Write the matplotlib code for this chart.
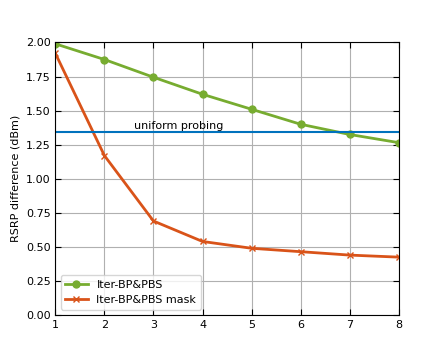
import matplotlib
matplotlib.use('Agg')
import matplotlib.pyplot as plt

iters = [1, 2, 3, 4, 5, 6, 7, 8]
bp_pbs = [1.99, 1.875, 1.745, 1.62, 1.51, 1.40, 1.325, 1.265]
bp_pbs_mask = [1.92, 1.17, 0.69, 0.54, 0.49, 0.465, 0.44, 0.425]
uniform = 1.34

plt.rcParams['font.size'] = 8
fig, ax = plt.subplots(figsize=(4.43, 3.54), dpi=100)

ax.plot(iters, bp_pbs, color='#77AC30', marker='o', markersize=5, linewidth=2, label='Iter-BP&PBS')
ax.plot(iters, bp_pbs_mask, color='#D95319', marker='x', markersize=5, linewidth=2, label='Iter-BP&PBS mask')
ax.axhline(uniform, color='#0072BD', linewidth=1.5)
ax.text(2.6, uniform + 0.01, 'uniform probing', fontsize=8, va='bottom')

ax.set_xlim(1, 8)
ax.set_ylim(0, 2)
ax.set_yticks([0, 0.25, 0.5, 0.75, 1.0, 1.25, 1.5, 1.75, 2.0])
ax.set_ylabel('RSRP difference (dBm)')
ax.grid(True, color='#b0b0b0')
ax.tick_params(direction='in', top=True, right=True, length=4)
ax.legend(loc='lower left')

fig.savefig('out.png')
